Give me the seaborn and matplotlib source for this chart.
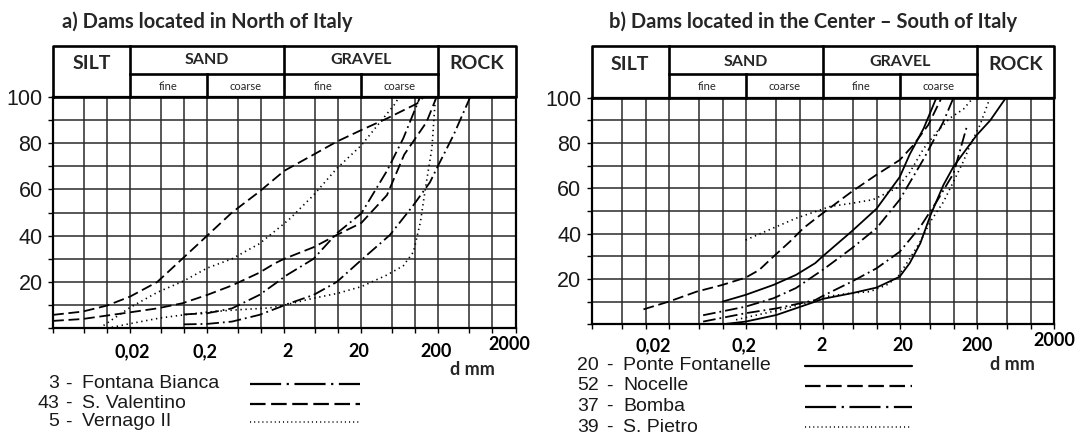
import matplotlib
matplotlib.use("Agg")
import matplotlib.pyplot as plt
import matplotlib.transforms as mtransforms
from matplotlib.lines import Line2D
from matplotlib.ticker import NullLocator
import seaborn as sns

# ---------------- data ----------------
tick_values = [0.02, 0.2, 2, 20, 200, 2000]
tick_labels = ["0,02", "0,2", "2", "20", "200", "2000"]
y_tick_values = [0, 10, 20, 30, 40, 50, 60, 70, 80, 90, 100]
y_tick_labels = ["", "", "20", "", "40", "", "60", "", "80", "", "100"]

class_names = ["SILT", "SAND", "GRAVEL", "ROCK"]
class_bounds = [0.002, 0.02, 2, 200, 2000]
sub_names = ["fine", "coarse", "fine", "coarse"]
sub_bounds = [0.02, 0.2, 2, 20, 200]

title_north = "a) Dams located in North of Italy"
title_south = "b) Dams located in the Center \u2013 South of Italy"
x_unit = "d mm"

# a) North of Italy  (d in mm, % passing)
fontana_bianca_1_d = [0.1, 0.2, 0.42, 0.95, 1.8, 2, 4.8, 9.6, 20, 43, 70, 116]
fontana_bianca_1_p = [6, 6.5, 8.6, 14.4, 21, 22.3, 30, 41, 49.6, 68, 82, 100]
fontana_bianca_2_d = [0.1, 0.2, 0.42, 0.95, 1.8, 2, 4.8, 9.6, 20, 47, 94, 155, 200, 315, 520]
fontana_bianca_2_p = [1.7, 1.9, 2.9, 5.8, 9.3, 10, 14.4, 20, 29.5, 40.3, 53, 63, 70.5, 83.5, 100]
s_valentino_1_d = [0.002, 0.0048, 0.01, 0.02, 0.045, 0.095, 0.2, 0.42, 0.95, 2, 4.8, 9.6, 20, 43, 105, 130]
s_valentino_1_p = [5.8, 7.2, 9.8, 13.7, 20, 30, 40, 50, 59, 68, 75, 80.6, 85.6, 90.6, 97, 100]
s_valentino_2_d = [0.002, 0.0048, 0.01, 0.02, 0.045, 0.095, 0.2, 0.42, 0.95, 1.5, 2, 4.8, 9.6, 20, 43, 72, 140, 190]
s_valentino_2_p = [3.2, 4, 5.5, 6.9, 8.6, 10.8, 14.4, 18.5, 24, 28, 30, 35, 40.3, 45.5, 57.5, 75, 89, 100]
vernago_1_d = [0.008, 0.012, 0.02, 0.045, 0.1, 0.2, 0.42, 0.95, 1.8, 2.4, 4.8, 9.6, 20, 35, 55, 62]
vernago_1_p = [0, 4, 9, 15.5, 20.5, 26, 30, 36.5, 44, 47.5, 57.5, 69, 79, 89, 97, 100]
vernago_2_d = [0.01, 0.02, 0.05, 0.1, 0.2, 0.5, 1.3, 2, 4.8, 9.6, 20, 43, 70, 95, 117, 135, 165, 183]
vernago_2_p = [0, 2, 4.5, 5.8, 7, 8, 8.8, 10, 13, 15, 18, 23, 27, 33, 46, 60, 78, 100]

# b) Center - South of Italy
fontanelle_1_d = [0.1, 0.2, 0.46, 0.9, 1.6, 2, 4.75, 10, 20, 27, 41, 60]
fontanelle_1_p = [10, 13, 17.4, 21.8, 27, 30, 41, 51, 65, 75, 86.5, 100]
fontanelle_2_d = [0.1, 0.2, 0.5, 1.6, 2, 4.75, 10, 20, 27, 37, 50, 74, 100, 200, 300, 480]
fontanelle_2_p = [0, 1.2, 4.1, 10, 11.2, 13.7, 16.2, 21, 27, 35.7, 48, 61.5, 69.6, 83.5, 90, 100]
nocelle_d = [0.0094, 0.02, 0.046, 0.1, 0.2, 0.3, 0.43, 0.75, 1.12, 1.6, 2, 4.75, 10, 20, 30, 47, 70]
nocelle_p = [6.6, 10, 14.4, 17.4, 20.6, 24, 29, 36.5, 42.4, 46.5, 49, 58.5, 66, 72.5, 79, 88, 100]
bomba_1_d = [0.056, 0.2, 0.46, 0.9, 1.6, 2, 4.75, 10, 20, 41, 73, 100]
bomba_1_p = [4, 7.8, 11.5, 16, 21.8, 24, 33.5, 42.4, 55, 73, 89, 100]
bomba_2_d = [0.056, 0.2, 0.5, 1.6, 2, 4.75, 10, 20, 37, 60, 100, 148]
bomba_2_p = [1.2, 4.9, 7, 10.7, 12.5, 18.8, 24.7, 32, 43, 54, 66.6, 87]
s_pietro_1_d = [0.2, 0.45, 0.9, 1.6, 2.5, 4.75, 9, 18, 27, 41, 61, 90, 135, 180]
s_pietro_1_p = [37.2, 42.4, 46.8, 49.7, 52, 53.4, 55, 60, 67, 77.6, 85, 91, 95, 100]
s_pietro_2_d = [0.15, 0.2, 0.5, 1.6, 2, 4.5, 8.2, 13.6, 19, 27, 37, 50, 74, 100, 134, 164, 221, 298]
s_pietro_2_p = [2, 3, 6, 10.5, 12, 13.7, 14.4, 17.4, 21, 29, 36.5, 45.3, 54, 63, 71.8, 79, 88, 100]

north_numbers = ["3", "43", "5"]
north_names = ["Fontana Bianca", "S. Valentino", "Vernago II"]
south_numbers = ["20", "52", "37", "39"]
south_names = ["Ponte Fontanelle", "Nocelle", "Bomba", "S. Pietro"]

# ---------------- styles ----------------
STY = {
    "dashdot": dict(linestyle=(0, (7, 2.2, 1, 2.2)), lw=1.3),
    "dashed": dict(linestyle=(0, (6, 2.6)), lw=1.3),
    "dotted": dict(linestyle=(0, (0.8, 2.2)), lw=1.2),
    "solid": dict(linestyle="-", lw=1.3),
}
LEG_STY = {
    "dashdot": dict(linestyle=(0, (14, 2.5, 1, 2.5)), lw=1.6),
    "dashed": dict(linestyle=(0, (7, 2.5)), lw=1.6),
    "dotted": dict(linestyle=(0, (0.7, 2.0)), lw=1.1),
    "solid": dict(linestyle="-", lw=1.6),
}

north_curves = [
    (fontana_bianca_1_d, fontana_bianca_1_p, "dashdot"),
    (fontana_bianca_2_d, fontana_bianca_2_p, "dashdot"),
    (s_valentino_1_d, s_valentino_1_p, "dashed"),
    (s_valentino_2_d, s_valentino_2_p, "dashed"),
    (vernago_1_d, vernago_1_p, "dotted"),
    (vernago_2_d, vernago_2_p, "dotted"),
]
south_curves = [
    (fontanelle_1_d, fontanelle_1_p, "solid"),
    (fontanelle_2_d, fontanelle_2_p, "solid"),
    (nocelle_d, nocelle_p, "dashed"),
    (bomba_1_d, bomba_1_p, "dashdot"),
    (bomba_2_d, bomba_2_p, "dashdot"),
    (s_pietro_1_d, s_pietro_1_p, "dotted"),
    (s_pietro_2_d, s_pietro_2_p, "dotted"),
]
north_leg_styles = ["dashdot", "dashed", "dotted"]
south_leg_styles = ["solid", "dashed", "dashdot", "dotted"]

# ---------------- figure ----------------
sns.set_theme(style="white")
plt.rcParams["font.family"] = ["Liberation Sans", "DejaVu Sans"]

W, H = 1083, 437
fig = plt.figure(figsize=(W / 100, H / 100), dpi=100)

HEAD_FONT = ["Lato", "DejaVu Sans"]
LEG_FS = 14


def px_axes(l, t, r, b):
    return fig.add_axes([l / W, 1 - b / H, (r - l) / W, (b - t) / H])


def fig_xy(x, y):
    return x / W, 1 - y / H


def make_panel(box, head_top, head_mid, curves, label_dx, label_dy, dmm_xy,
               title, title_xy, numbers, names, leg_styles, leg_num_x, leg_num_ha,
               leg_dash_x, leg_name_x, leg_ys, leg_line_x):
    l, t, r, b = box
    ax = px_axes(l, t, r, b)
    ax.set_xscale("log")
    for d, p, s in curves:
        sns.lineplot(x=d, y=p, ax=ax, color="black", estimator=None, sort=False,
                     legend=False, **STY[s])
    ax.set_xlim(0.002, 2000)
    ax.set_ylim(0, 100)

    # grid
    gx = []
    for k in range(6):
        base = 0.002 * 10 ** k
        gx += [base, base * 2.5, base * 5]
    gx.append(2000)
    ax.set_xticks(gx, labels=[""] * len(gx))
    ax.xaxis.set_minor_locator(NullLocator())
    ax.set_yticks(y_tick_values, labels=y_tick_labels)
    ax.grid(True, color="#2a2a2a", lw=1.1)
    ax.set_axisbelow(True)
    ax.tick_params(axis="both", direction="out", length=3.5, width=1.0, color="black",
                   left=True, bottom=True)
    ax.tick_params(axis="y", labelsize=15.5, labelcolor="#1a1a1a", pad=4)
    for sp in ax.spines.values():
        sp.set_color("black")
        sp.set_linewidth(1.6)
    ax.set_xlabel("")
    ax.set_ylabel("")

    # x labels
    tr = ax.get_xaxis_transform()
    for v, lab, dx, dy in zip(tick_values, tick_labels, label_dx, label_dy):
        ttr = mtransforms.offset_copy(tr, fig=fig, x=dx, y=-dy, units="dots")
        ax.text(v, 0, lab, transform=ttr, ha="center", va="center",
                fontfamily=HEAD_FONT, fontweight="bold", fontsize=13, color="black")
    fig.text(*fig_xy(*dmm_xy), x_unit, ha="center", va="center",
             fontfamily=HEAD_FONT, fontweight="bold", fontsize=13)

    # header table
    h = b - t
    y_top = 1 + (t - head_top) / h
    y_mid = 1 + (t - head_mid) / h
    kw = dict(color="black", lw=1.9, transform=tr, clip_on=False,
              solid_capstyle="projecting")
    ax.plot([0.002, 2000, 2000, 0.002, 0.002], [1, 1, y_top, y_top, 1], **kw)
    for x in class_bounds[1:-1]:
        ax.plot([x, x], [1, y_top], **kw)
    for x in sub_bounds[1:-1:2]:
        ax.plot([x, x], [1, y_mid], **kw)
    ax.plot([sub_bounds[0], sub_bounds[-1]], [y_mid, y_mid], **kw)
    ax.set_xlim(0.002, 2000)
    ax.set_ylim(0, 100)

    def ypx(y):
        return 1 + (t - y) / h

    for i, name in enumerate(class_names):
        xc = (class_bounds[i] * class_bounds[i + 1]) ** 0.5
        big = name in ("SILT", "ROCK")
        ax.text(xc, ypx(head_top + (18 if big else 15)), name, transform=tr,
                ha="center", va="center", fontfamily=HEAD_FONT, fontweight="bold",
                fontsize=14 if big else 11.5)
    for i, name in enumerate(sub_names):
        xc = (sub_bounds[i] * sub_bounds[i + 1]) ** 0.5
        ax.text(xc, ypx((head_mid + t) / 2 + 1), name, transform=tr, ha="center",
                va="center", fontfamily=HEAD_FONT, fontsize=8)

    # title
    fig.text(*fig_xy(*title_xy), title, ha="left", va="center",
             fontfamily=HEAD_FONT, fontweight="bold", fontsize=14.5)

    # legend
    for num, name, s, y in zip(numbers, names, leg_styles, leg_ys):
        fig.text(*fig_xy(leg_num_x, y), num, ha=leg_num_ha, va="center", fontsize=LEG_FS,
                 color="#1a1a1a")
        fig.text(*fig_xy(leg_dash_x, y), "-", ha="center", va="center", fontsize=LEG_FS,
                 color="#1a1a1a")
        fig.text(*fig_xy(leg_name_x, y), name, ha="left", va="center", fontsize=LEG_FS,
                 color="#1a1a1a")
        x0, y0 = fig_xy(leg_line_x[0], y)
        x1, _ = fig_xy(leg_line_x[1], y)
        fig.add_artist(Line2D([x0, x1], [y0, y0], transform=fig.transFigure,
                              color="black", **LEG_STY[s]))
    return ax


make_panel(box=(53, 96.7, 515.5, 328.3), head_top=45.5, head_mid=73.5,
           curves=north_curves,
           label_dx=[2, -2, 3, -3, -2, -6], label_dy=[23, 23, 23, 23, 23, 16],
           dmm_xy=(472, 369.5), title=title_north, title_xy=(62, 22),
           numbers=north_numbers, names=north_names, leg_styles=north_leg_styles,
           leg_num_x=59, leg_num_ha="right", leg_dash_x=68, leg_name_x=82,
           leg_ys=[384, 403.5, 422], leg_line_x=(250, 360))

make_panel(box=(591.7, 97.7, 1053.7, 324.3), head_top=46.5, head_mid=74,
           curves=south_curves,
           label_dx=[-15, -2, -1, 3, 0, 1], label_dy=[21, 21, 21, 21, 21, 16],
           dmm_xy=(1012, 364.5), title=title_south, title_xy=(609, 22),
           numbers=south_numbers, names=south_names, leg_styles=south_leg_styles,
           leg_num_x=577, leg_num_ha="left", leg_dash_x=609, leg_name_x=623,
           leg_ys=[365.5, 386, 406.5, 427], leg_line_x=(805, 912))

fig.savefig("out.png", dpi=100, facecolor="white")
